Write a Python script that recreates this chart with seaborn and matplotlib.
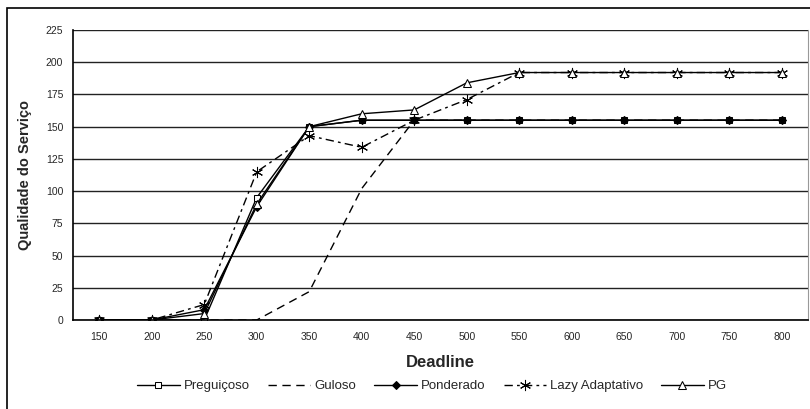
import matplotlib
matplotlib.use('Agg')
import matplotlib.pyplot as plt
import seaborn as sns
import pandas as pd
from matplotlib.patches import Rectangle

# Dados
deadlines = ['150', '200', '250', '300', '350', '400', '450', '500',
             '550', '600', '650', '700', '750', '800']
preguicoso = [0, 0, 0, 95, 150, 155, 155, 155, 155, 155, 155, 155, 155, 155]
guloso = [0, 0, 0, 0, 22, 102, 155, 155, 155, 155, 155, 155, 155, 155]
ponderado = [0, 0, 8, 88, 150, 155, 155, 155, 155, 155, 155, 155, 155, 155]
lazy_adaptativo = [0, 0, 12, 115, 143, 134, 155, 171, 192, 192, 192, 192, 192, 192]
pg = [0, 0, 5, 90, 150, 160, 163, 184, 192, 192, 192, 192, 192, 192]

sns.set_style('white')
plt.rcParams['font.family'] = ['Liberation Sans', 'DejaVu Sans']

fig = plt.figure(figsize=(8.1, 4.09), dpi=100)
ax = fig.add_axes([73 / 810, 1 - 320 / 409, (808 - 73) / 810, (320 - 30) / 409])

series = [
    ('Preguiçoso', preguicoso, '-', 's', 'white', 5),
    ('Guloso', guloso, (0, (6, 4)), None, 'black', 0),
    ('Ponderado', ponderado, '-', 'D', 'black', 4),
    ('Lazy Adaptativo', lazy_adaptativo, (0, (6, 3, 2, 3)), (6, 2, 0), 'black', 8),
    ('PG', pg, '-', '^', 'white', 6),
]

for nome, valores, ls, mk, fc, ms in series:
    df = pd.DataFrame({'Deadline': deadlines, 'Qualidade': valores})
    sns.lineplot(data=df, x='Deadline', y='Qualidade', ax=ax, color='black',
                 linestyle=ls, marker=mk, markerfacecolor=fc, markeredgecolor='black',
                 markersize=ms, linewidth=1, label=nome, sort=False)

ax.set_xlim(-0.5, len(deadlines) - 0.5)
ax.set_ylim(0, 225)
ax.set_yticks(range(0, 226, 25))
ax.set_xticks([i + 0.5 for i in range(-1, len(deadlines))], minor=True)
ax.set_xticks(range(len(deadlines)))
ax.set_xticklabels(deadlines)
ax.tick_params(axis='x', which='major', length=0, labelsize=7.5, pad=9)
ax.tick_params(axis='x', which='minor', length=4, width=1, color='black', direction='out')
ax.tick_params(axis='y', length=4, width=1, color='black', direction='out', labelsize=7.5, pad=3)
ax.yaxis.grid(True, color='#222222', linewidth=1)
ax.set_axisbelow(True)

for s in ['left', 'bottom']:
    ax.spines[s].set_color('black')
    ax.spines[s].set_linewidth(1.2)
ax.spines['top'].set_visible(False)
ax.spines['right'].set_color('#999999')

ax.set_xlabel('Deadline', fontsize=12, fontweight='bold', labelpad=9)
ax.set_ylabel('Qualidade do Serviço', fontsize=10.5, fontweight='bold', labelpad=10)

ax.legend(loc='center', bbox_to_anchor=(432 / 810, 1 - 386 / 409), bbox_transform=fig.transFigure,
          ncol=5, frameon=False, fontsize=9.5, handlelength=3.2, columnspacing=1.4,
          handletextpad=0.3, borderpad=0)

fig.patches.append(Rectangle((7 / 810, -0.1), 1.1, 1.1 - 8 / 409,
                             transform=fig.transFigure, fill=False,
                             edgecolor='black', linewidth=1.2))

fig.savefig('out.png', dpi=100)
